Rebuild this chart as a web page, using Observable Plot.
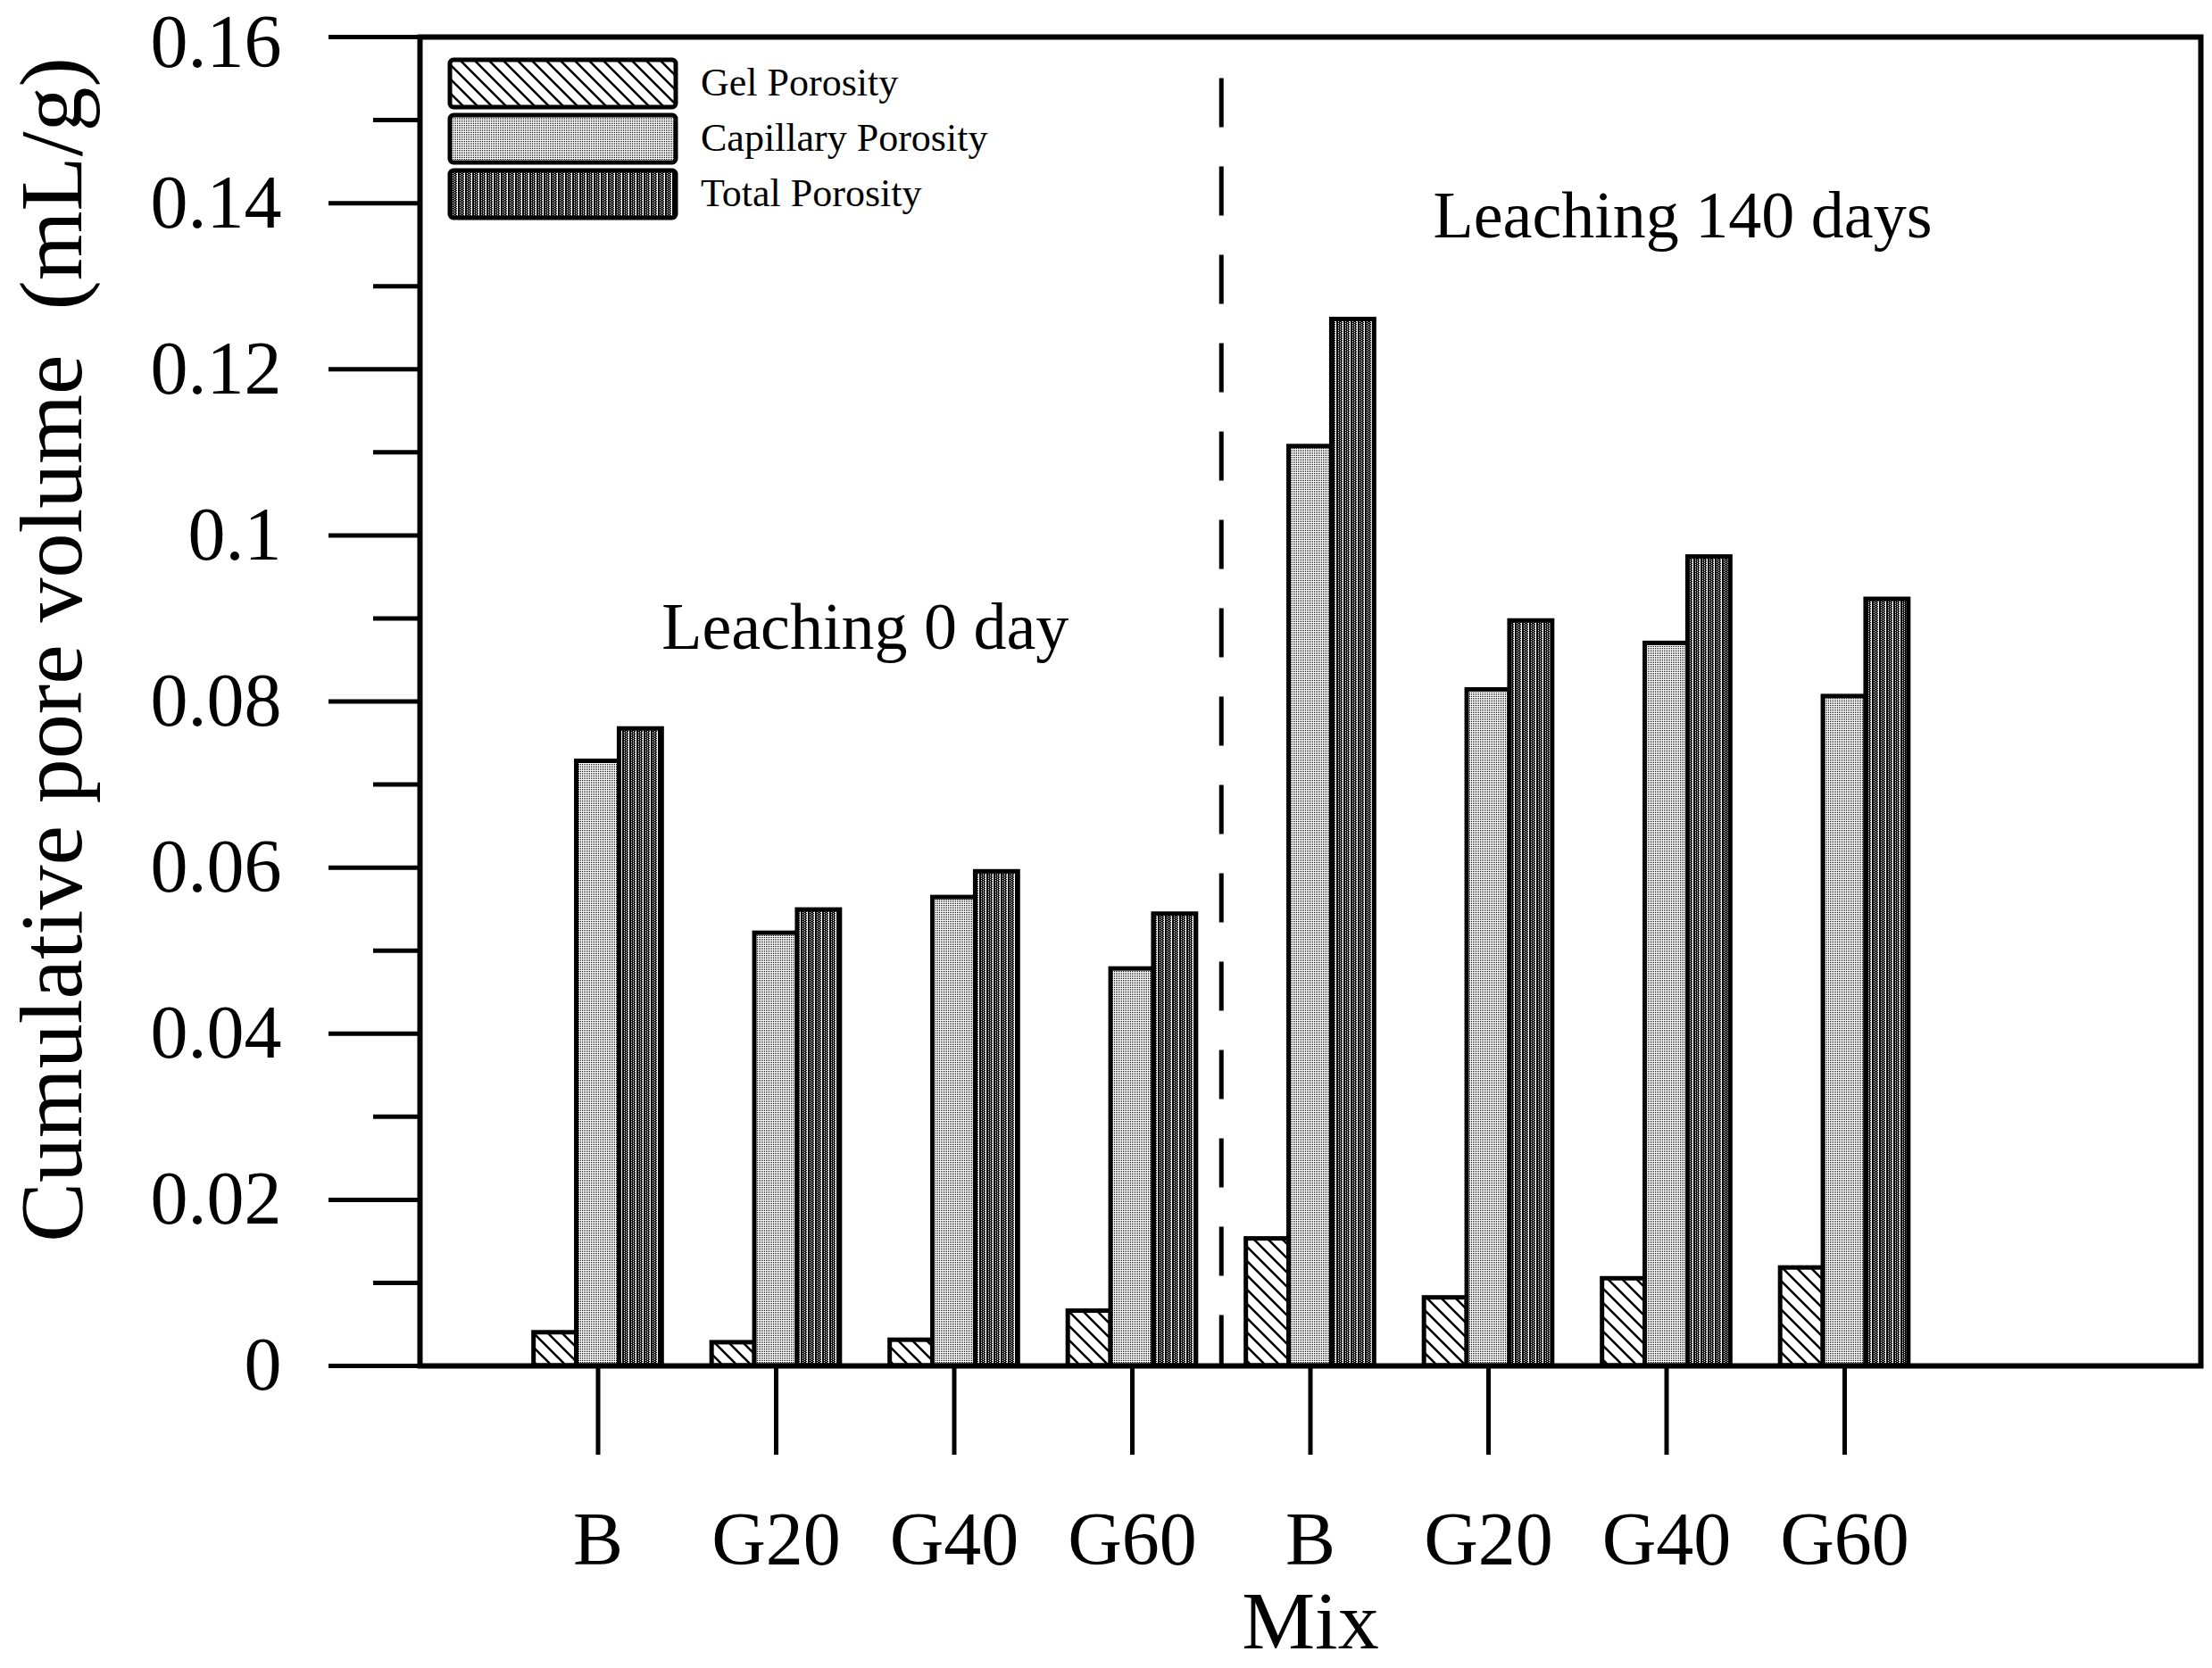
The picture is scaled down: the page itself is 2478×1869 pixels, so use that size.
<!DOCTYPE html>
<html>
<head>
<meta charset="utf-8">
<script src="https://cdn.jsdelivr.net/npm/d3@7"></script>
<script src="https://cdn.jsdelivr.net/npm/@observablehq/plot@0.6"></script>
<style>
  html, body { margin: 0; padding: 0; background: #fff; overflow: hidden; }
</style>
</head>
<body>
<svg width="0" height="0" style="position:absolute">
  <defs>
    <pattern id="gelPat" patternUnits="userSpaceOnUse" width="16" height="16">
      <rect width="16" height="16" fill="white"/>
      <path d="M-4,-4L20,20M-4,12L4,20M12,-4L20,4" stroke="black" stroke-width="2.6"/>
    </pattern>
    <pattern id="capPat" patternUnits="userSpaceOnUse" width="2" height="2">
      <rect width="2" height="2" fill="white"/>
      <rect width="1" height="1" fill="black"/>
    </pattern>
    <pattern id="totPat" patternUnits="userSpaceOnUse" width="8" height="2">
      <rect width="8" height="2" fill="black"/>
      <rect x="0" y="0" width="1" height="2" fill="white"/>
      <rect x="3" y="0" width="1" height="1" fill="white"/>
      <rect x="5" y="1" width="1" height="1" fill="white"/>
      <rect x="7" y="0" width="1" height="1" fill="white"/>
    </pattern>
  </defs>
</svg>
<div id="chart"></div>
<script>
// ---- data ----
const mixes = ["B", "G20", "G40", "G60", "B", "G20", "G40", "G60"];
const series = ["Gel Porosity", "Capillary Porosity", "Total Porosity"];
const gelPorosity       = [0.0040, 0.0028, 0.0031, 0.0066, 0.0153, 0.0082, 0.0105, 0.0118];
const capillaryPorosity = [0.0728, 0.0521, 0.0564, 0.0478, 0.1107, 0.0814, 0.0870, 0.0806];
const totalPorosity     = [0.0767, 0.0549, 0.0595, 0.0544, 0.1260, 0.0897, 0.0974, 0.0923];
const yTicks = [0, 0.02, 0.04, 0.06, 0.08, 0.10, 0.12, 0.14, 0.16];
const yTickLabels = ["0", "0.02", "0.04", "0.06", "0.08", "0.1", "0.12", "0.14", "0.16"];
const yMinorTicks = [0.01, 0.03, 0.05, 0.07, 0.09, 0.11, 0.13, 0.15];
const periodLabels = ["Leaching 0 day", "Leaching 140 days"];
const periodX = [2.5, 7.09];
const periodY = [0.0863, 0.1359];
const dividerX = [4.5];
const dividerTop = 0.155;
const yTitle = "Cumulative pore volume \u00a0(mL/g)";
const xTitle = "Mix";

// ---- derived table ----
const seriesValues = [gelPorosity, capillaryPorosity, totalPorosity];
const fills = ["url(#gelPat)", "url(#capPat)", "url(#totPat)"];
const barW = 0.24;
const barLeft = [-0.36, -0.12, 0.12];
const table = series.flatMap((s, si) =>
  mixes.map((m, i) => ({series: s, si, pos: i + 1, mix: m, value: seriesValues[si][i]}))
);
const xTickPos = mixes.map((m, i) => i + 1);
const annotations = periodLabels.map((t, i) => ({text: t, x: periodX[i], y: periodY[i]}));
const lastTick = yTicks.length - 1;
const topLabel = [{y: yTicks[lastTick], text: yTickLabels[lastTick]}];

function legendMark(index, scales, values, dims) {
  const ml = dims ? dims.marginLeft : 470;
  const mt = dims ? dims.marginTop : 41;
  const g = d3.create("svg:g");
  series.forEach((s, i) => {
    g.append("rect")
      .attr("x", ml + 34).attr("y", mt + 26 + 62 * i)
      .attr("width", 253).attr("height", 53)
      .attr("rx", 4)
      .attr("fill", fills[i]).attr("stroke", "black").attr("stroke-width", 5);
    g.append("text")
      .attr("x", ml + 315).attr("y", mt + 66 + 62 * i)
      .attr("text-anchor", "start")
      .attr("font-family", "Liberation Serif").attr("font-size", 44)
      .attr("fill", "black")
      .text(s);
  });
  return g.node();
}

const chart = Plot.plot({
  width: 2478,
  height: 1869,
  marginLeft: 470,
  marginRight: 13,
  marginTop: 41,
  marginBottom: 339,
  style: {fontFamily: "Liberation Serif", color: "black", background: "white", overflow: "visible"},
  x: {type: "linear", domain: [0, 10]},
  y: {domain: [0, 0.16]},
  marks: [
    ...series.map((s, si) =>
      Plot.rect(table.filter(d => d.si === si), {
        x1: d => d.pos + barLeft[si],
        x2: d => d.pos + barLeft[si] + barW,
        y1: 0,
        y2: "value",
        fill: fills[si],
        stroke: "black",
        strokeWidth: 5
      })
    ),
    Plot.ruleX(dividerX, {x: d => d, y1: dividerTop, y2: 0, stroke: "black", strokeWidth: 5, strokeDasharray: "55,44"}),
    Plot.text(annotations, {x: "x", y: "y", text: "text", fontSize: 74, lineAnchor: "bottom", textAnchor: "middle", fill: "black"}),
    Plot.axisY({ticks: yTicks, tickSize: 102, tickPadding: 53, strokeWidth: 5, fontSize: 84,
      tickFormat: (d, i) => (i === lastTick ? "" : yTickLabels[i]), label: null}),
    Plot.text(topLabel, {y: "y", text: "text", frameAnchor: "left", dx: -155, dy: 7,
      textAnchor: "end", lineAnchor: "middle", fontSize: 84, fill: "black"}),
    Plot.axisY({ticks: yMinorTicks, tickSize: 52, strokeWidth: 5, tickFormat: () => "", label: null}),
    Plot.axisX({ticks: xTickPos, tickSize: 100, tickPadding: 63, strokeWidth: 5, fontSize: 84,
      tickFormat: d => mixes[d - 1], label: null}),
    Plot.frame({stroke: "black", strokeWidth: 6}),
    Plot.text([yTitle], {text: d => d, frameAnchor: "left", dx: -380, dy: -58, rotate: -90,
      lineAnchor: "bottom", textAnchor: "middle", fontSize: 100, fill: "black"}),
    Plot.text([xTitle], {text: d => d, frameAnchor: "bottom", dy: 316, lineAnchor: "bottom",
      textAnchor: "middle", fontSize: 92, fill: "black"}),
    legendMark
  ]
});
document.getElementById("chart").appendChild(chart);
</script>
</body>
</html>
